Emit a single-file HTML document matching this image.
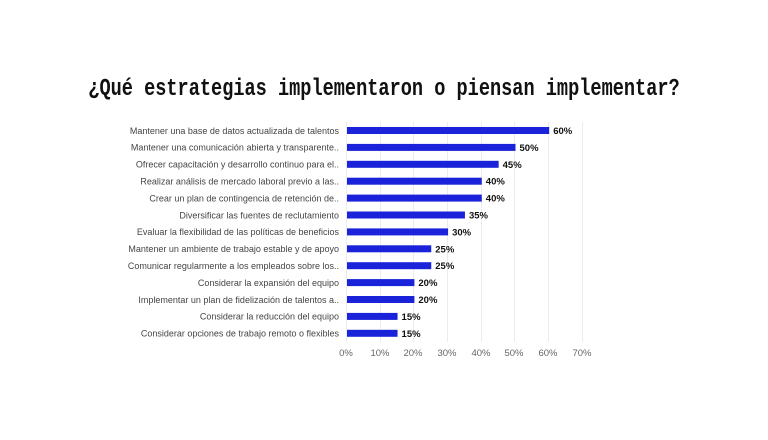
<!DOCTYPE html>
<html><head><meta charset="utf-8"><style>
body{margin:0;width:768px;height:440px;background:#fff;position:relative;overflow:hidden;font-family:"Liberation Sans",sans-serif}
.t{position:absolute;left:0;width:768px;top:79px;text-align:center;font-family:"Liberation Mono",monospace;font-weight:bold;font-size:18.6px;line-height:22px;color:#111;transform:scaleY(1.3)}
</style></head><body>
<div class="t">¿Qué estrategias implementaron o piensan implementar?</div>
<svg width="768" height="440" style="position:absolute;left:0;top:0">
<g stroke="#ececec" stroke-width="1">
<line x1="346.5" y1="122" x2="346.5" y2="342"/><line x1="380.5" y1="122" x2="380.5" y2="342"/><line x1="413.5" y1="122" x2="413.5" y2="342"/><line x1="447.5" y1="122" x2="447.5" y2="342"/><line x1="481.5" y1="122" x2="481.5" y2="342"/><line x1="514.5" y1="122" x2="514.5" y2="342"/><line x1="548.5" y1="122" x2="548.5" y2="342"/><line x1="582.5" y1="122" x2="582.5" y2="342"/>
</g>
<g font-size="9.5" fill="#666" text-anchor="middle">
<text x="346" y="356">0%</text><text x="380" y="356">10%</text><text x="413" y="356">20%</text><text x="447" y="356">30%</text><text x="481" y="356">40%</text><text x="514" y="356">50%</text><text x="548" y="356">60%</text><text x="582" y="356">70%</text>
</g>
<g id="bars" font-size="9"></g>
</svg>
<script>
var d=[["Mantener una base de datos actualizada de talentos",60],["Mantener una comunicación abierta y transparente..",50],["Ofrecer capacitación y desarrollo continuo para el..",45],["Realizar análisis de mercado laboral previo a las..",40],["Crear un plan de contingencia de retención de..",40],["Diversificar las fuentes de reclutamiento",35],["Evaluar la flexibilidad de las políticas de beneficios",30],["Mantener un ambiente de trabajo estable y de apoyo",25],["Comunicar regularmente a los empleados sobre los..",25],["Considerar la expansión del equipo",20],["Implementar un plan de fidelización de talentos a..",20],["Considerar la reducción del equipo",15],["Considerar opciones de trabajo remoto o flexibles",15]];
var g=document.getElementById('bars'),s='';
d.forEach(function(r,i){var y=130.5+i*16.9,w=r[1]*3.37;
s+='<text x="339" y="'+(y+3.3)+'" text-anchor="end" fill="#444">'+r[0]+'</text>';
s+='<rect x="347" y="'+(y-3.5)+'" width="'+w+'" height="7" fill="#1a23d9"/>';
s+='<text x="'+(351+w)+'" y="'+(y+3.5)+'" font-weight="bold" font-size="9.5" fill="#111">'+r[1]+'%</text>';});
g.innerHTML=s;
</script>
</body></html>
